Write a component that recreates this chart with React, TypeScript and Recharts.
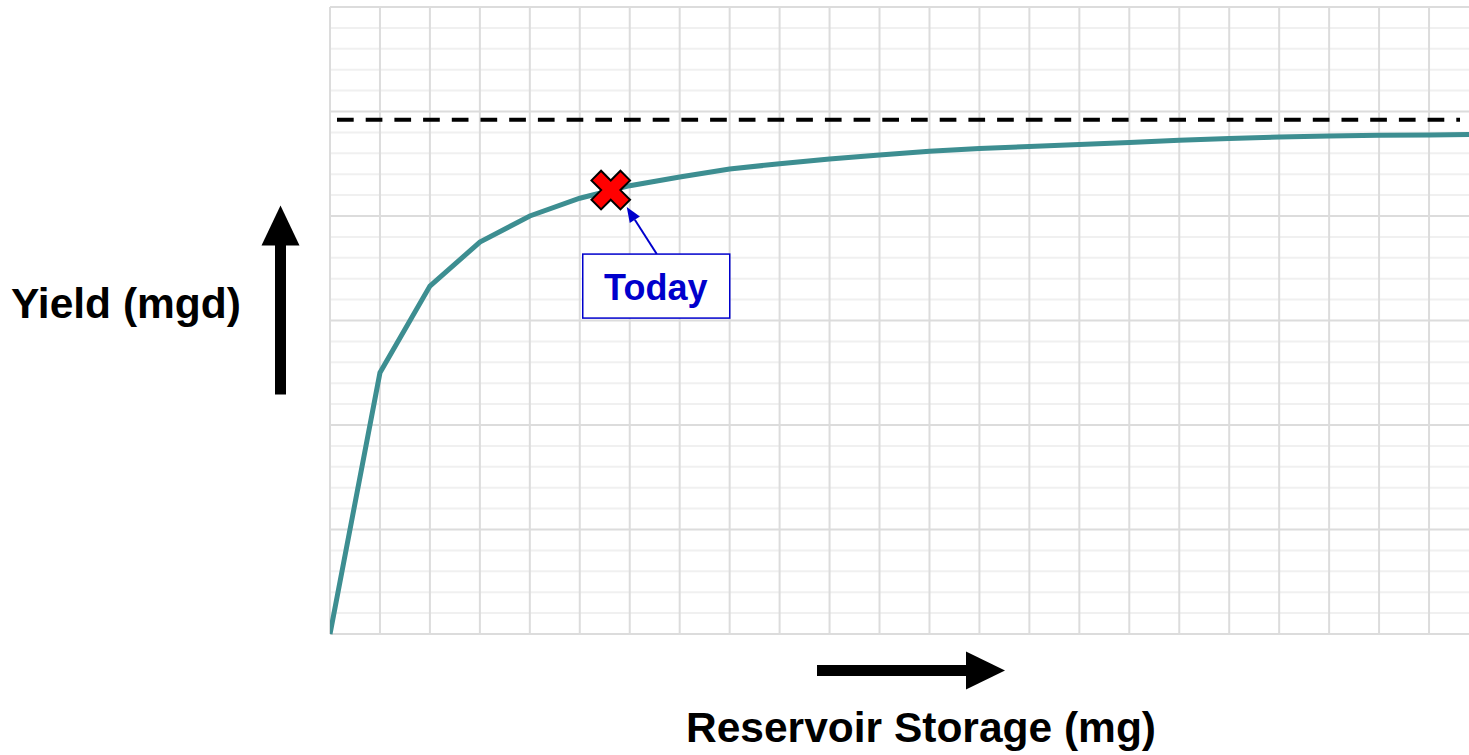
import React from 'react';
import { ComposedChart, Line, XAxis, YAxis, ReferenceLine, ReferenceDot } from 'recharts';

// storage (grid units) vs yield (grid units)
const storage = [0, 1, 2, 3, 4, 5, 6, 7, 8, 9, 10, 11, 12, 13, 14, 15, 16, 17, 18, 19, 20, 21, 22, 22.8];
const yieldMgd = [0, 12.5, 16.65, 18.75, 20.0, 20.85, 21.45, 21.87, 22.25, 22.5, 22.73, 22.92, 23.1, 23.23, 23.33, 23.42, 23.52, 23.62, 23.71, 23.78, 23.83, 23.86, 23.88, 23.9];

const xTicks = [0, 1, 2, 3, 4, 5, 6, 7, 8, 9, 10, 11, 12, 13, 14, 15, 16, 17, 18, 19, 20, 21, 22];
const yMajor = [0, 5, 10, 15, 20, 25, 30];
const yMinor = [1, 2, 3, 4, 6, 7, 8, 9, 11, 12, 13, 14, 16, 17, 18, 19, 21, 22, 23, 24, 26, 27, 28, 29];

const safeYield = 24.6;
const today = { x: 5.62, y: 21.24, label: 'Today' };

const data = storage.map((s, i) => ({ storage: s, yield: yieldMgd[i] }));

const FONT = '"Liberation Sans", Arial, sans-serif';

const TodayMarker = (props: any) => {
  const { cx, cy } = props;
  if (cx == null || cy == null) return null;
  const a = 20.5;
  const b = 6.8;
  const plus = `M${-b},${-a} L${b},${-a} L${b},${-b} L${a},${-b} L${a},${b} L${b},${b} L${b},${a} L${-b},${a} L${-b},${b} L${-a},${b} L${-a},${-b} L${-b},${-b} Z`;
  // arrow from box to marker
  const tx = cx + 46, ty = cy + 64;
  const hx = cx + 16, hy = cy + 17;
  const ang = Math.atan2(hy - ty, hx - tx);
  const hl = 15, hw = 6;
  const bx = hx - hl * Math.cos(ang), by = hy - hl * Math.sin(ang);
  const px = -Math.sin(ang) * hw, py = Math.cos(ang) * hw;
  return (
    <g>
      <line x1={tx} y1={ty} x2={bx} y2={by} stroke="#0000cc" strokeWidth={2} />
      <polygon points={`${hx},${hy} ${bx + px},${by + py} ${bx - px},${by - py}`} fill="#0000cc" />
      <rect x={cx - 28} y={cy + 64} width={147} height={64} fill="#fff" stroke="#0000cc" strokeWidth={1.5} />
      <text x={cx + 45} y={cy + 110} textAnchor="middle" fontFamily={FONT} fontWeight="bold" fontSize={36} fill="#0000cc">
        {today.label}
      </text>
      <path d={plus} transform={`translate(${cx},${cy}) rotate(45)`} fill="#ff0000" stroke="#000" strokeWidth={2} />
    </g>
  );
};

const YLabel = (props: any) => {
  const vb = props.viewBox || { x: 0, y: 7, width: 330, height: 627 };
  const mid = vb.y + vb.height / 2;
  const ax = vb.x + 280.5;
  return (
    <g>
      <text x={vb.x + 126} y={mid - 3} textAnchor="middle" fontFamily={FONT} fontWeight="bold" fontSize={42.5} fill="#000">
        Yield (mgd)
      </text>
      <rect x={ax - 5.5} y={mid - 76} width={11} height={150} fill="#000" />
      <polygon points={`${ax},${mid - 115} ${ax + 19},${mid - 75} ${ax - 19},${mid - 75}`} fill="#000" />
    </g>
  );
};

const XLabel = (props: any) => {
  const vb = props.viewBox || { x: 330, y: 634, width: 1139, height: 121 };
  const ay = vb.y + 36.5;
  return (
    <g>
      <rect x={817} y={ay - 5.5} width={150} height={11} fill="#000" />
      <polygon points={`1005,${ay} 966,${ay - 19} 966,${ay + 19}`} fill="#000" />
      <text x={921} y={vb.y + 108} textAnchor="middle" fontFamily={FONT} fontWeight="bold" fontSize={42.5} fill="#000">
        Reservoir Storage (mg)
      </text>
    </g>
  );
};

export default function App() {
  return (
    <div style={{ position: 'absolute', left: 0, top: 0, width: 1469, height: 755, background: '#fff' }}>
      <ComposedChart width={1469} height={755} data={data} margin={{ top: 7, right: 0, bottom: 0, left: 0 }}>
        <XAxis
          dataKey="storage"
          type="number"
          domain={[0, 22.8]}
          ticks={xTicks}
          allowDataOverflow
          height={121}
          axisLine={false}
          tickLine={false}
          tick={false}
          label={<XLabel />}
        />
        <YAxis
          type="number"
          domain={[0, 30]}
          ticks={yMajor}
          width={330}
          axisLine={false}
          tickLine={false}
          tick={false}
          label={<YLabel />}
        />
        {yMinor.map((v) => (
          <ReferenceLine key={`ym-${v}`} y={v} stroke="#f0f0f0" strokeWidth={2} />
        ))}
        {yMajor.map((v) => (
          <ReferenceLine key={`yM-${v}`} y={v} stroke="#dcdcdc" strokeWidth={2} />
        ))}
        {xTicks.map((v) => (
          <ReferenceLine key={`x-${v}`} x={v} stroke="#dcdcdc" strokeWidth={2} />
        ))}
        <ReferenceLine
          segment={[{ x: 0.14, y: safeYield }, { x: 22.62, y: safeYield }]}
          stroke="#000"
          strokeWidth={4}
          strokeDasharray="16.7 12"
        />
        <Line
          dataKey="yield"
          type="linear"
          stroke="#3d8e91"
          strokeWidth={5}
          dot={false}
          isAnimationActive={false}
        />
        <ReferenceDot x={today.x} y={today.y} r={18} shape={<TodayMarker />} />
      </ComposedChart>
    </div>
  );
}
